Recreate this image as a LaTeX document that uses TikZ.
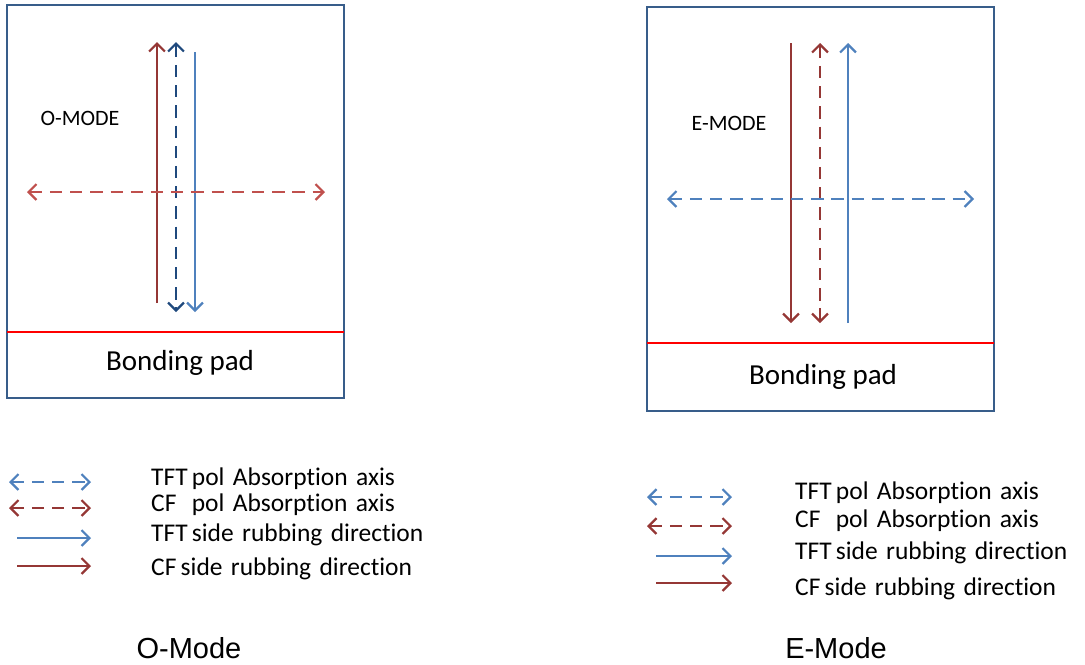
\documentclass[tikz,border=0pt]{standalone}
\usepackage{fontspec}
\setmainfont{Carlito}[Ligatures=NoCommon]
\newfontfamily\arialfont{Liberation Sans}
\usetikzlibrary{arrows.meta}

\definecolor{boxblue}{HTML}{385D8A}
\definecolor{tftblue}{HTML}{4F81BD}
\definecolor{darkblue}{HTML}{1F497D}
\definecolor{cfred}{HTML}{953735}
\definecolor{lightred}{HTML}{C0504D}

\newcommand\legfont{\fontsize{14.5}{16}\selectfont\spaceskip=0.33em\relax}

\tikzset{
    barb/.style={-{Straight Barb[length=4.5pt,width=9pt,line width=1.3pt]}},
    twobarb/.style={{Straight Barb[length=4.5pt,width=9pt,line width=1.3pt]}-{Straight Barb[length=4.5pt,width=9pt,line width=1.3pt]}},
    absaxis/.style={line width=1.5pt, dash pattern=on 7pt off 4.5pt},
    rubdir/.style={line width=1.4pt},
    panel/.style={draw=boxblue, line width=1.5pt},
    padline/.style={red, line width=1.5pt},
    padtext/.style={font=\fontsize{16.5}{19}\selectfont},
    modetext/.style={font=\fontsize{12.5}{14}\selectfont},
    legtext/.style={anchor=west, font=\legfont},
    captext/.style={font=\arialfont\fontsize{16.5}{19}\selectfont}
}

\begin{document}
\begin{tikzpicture}[x=0.02cm, y=-0.02cm]
    \useasboundingbox (0,0) rectangle (1085,664);

    % O-mode panel
    \draw[panel] (7,5) rectangle (344,398);
    \draw[padline] (7,332) -- (344,332);
    \node[padtext] (padO) at (180,363) {Bonding pad};
    \node[modetext] (labO) at (80,118) {O-MODE};

    \draw[rubdir, cfred, barb] (157,303) -- (157,42);
    \draw[absaxis, darkblue, twobarb] (176,42) -- (176,312);
    \draw[rubdir, tftblue, barb] (195,52) -- (195,312);
    \draw[absaxis, lightred, twobarb] (27,192) -- (325,192);

    % E-mode panel
    \draw[panel] (647,7) rectangle (994,411);
    \draw[padline] (647,343) -- (994,343);
    \node[padtext] (padE) at (823,377) {Bonding pad};
    \node[modetext] (labE) at (729,123) {E-MODE};

    \draw[rubdir, cfred, barb] (791,43) -- (791,323);
    \draw[absaxis, cfred, twobarb] (820,43) -- (820,323);
    \draw[rubdir, tftblue, barb] (848,323) -- (848,43);
    \draw[absaxis, tftblue, twobarb] (667,199) -- (974,199);

    % legend, O-mode
    \draw[absaxis, tftblue, twobarb] (9,482) -- (91,482);
    \draw[absaxis, cfred, twobarb] (9,508) -- (91,508);
    \draw[rubdir, tftblue, barb] (17,538) -- (91,538);
    \draw[rubdir, cfred, barb] (17,566) -- (91,566);
    \node[legtext] (legO1) at (145,479) {TFT\,pol Absorption axis};
    \node[legtext] (legO2) at (145,505) {CF\hspace{0.6em}pol Absorption axis};
    \node[legtext] (legO3) at (145,535) {TFT\,side rubbing direction};
    \node[legtext] (legO4) at (145,569) {CF\,side rubbing direction};

    % legend, E-mode
    \draw[absaxis, tftblue, twobarb] (647,497) -- (732,497);
    \draw[absaxis, cfred, twobarb] (647,526) -- (732,526);
    \draw[rubdir, tftblue, barb] (656,556) -- (732,556);
    \draw[rubdir, cfred, barb] (656,583) -- (732,583);
    \node[legtext] (legE1) at (789,493) {TFT\,pol Absorption axis};
    \node[legtext] (legE2) at (789,521) {CF\hspace{0.6em}pol Absorption axis};
    \node[legtext] (legE3) at (789,553) {TFT\,side rubbing direction};
    \node[legtext] (legE4) at (789,589) {CF\,side rubbing direction};

    \node[captext] (capO) at (189,648) {O-Mode};
    \node[captext] (capE) at (836,648) {E-Mode};
\end{tikzpicture}
\end{document}
